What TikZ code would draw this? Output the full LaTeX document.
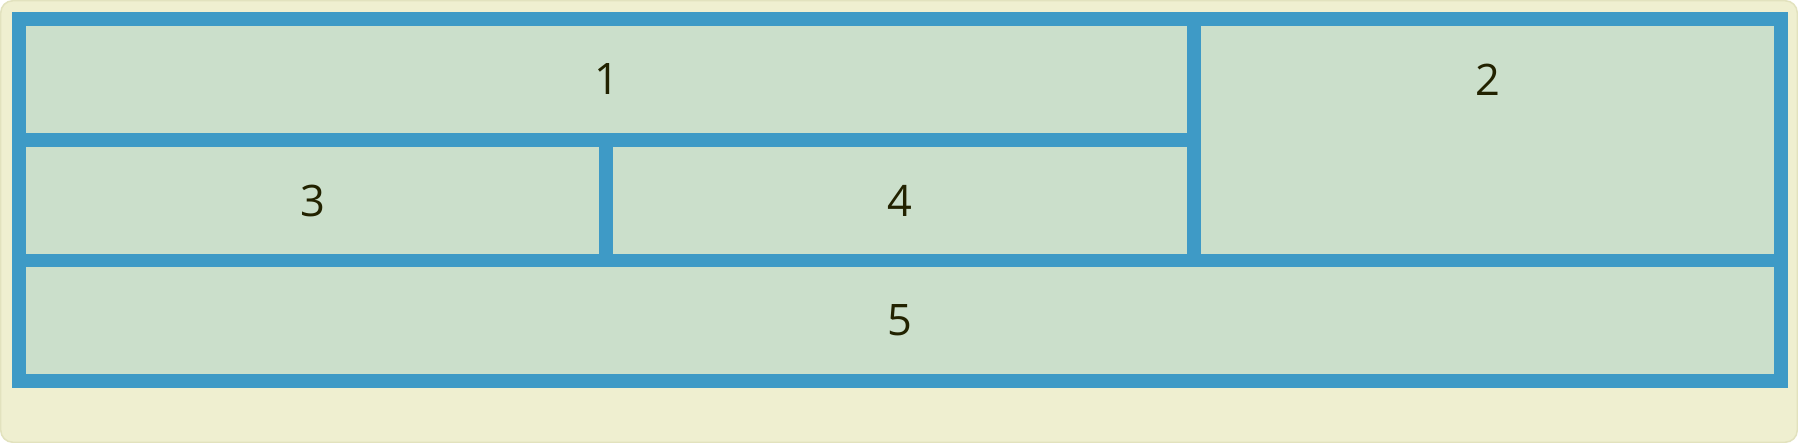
\documentclass[tikz,border=0pt]{standalone}
\usepackage{fontspec}
\setmainfont{Open Sans}
\definecolor{pagebg}{RGB}{239,239,208}
\definecolor{pageline}{RGB}{226,226,190}
\definecolor{gridblue}{RGB}{62,154,198}
\definecolor{cellfill}{RGB}{203,223,203}
\definecolor{digit}{RGB}{34,34,0}
\begin{document}
\begin{tikzpicture}[x=1bp,y=-1bp,
  cell/.style={fill=cellfill,draw=none,inner sep=0pt,outer sep=0pt,anchor=north west,
    text=digit,font=\fontsize{43.4bp}{52bp}\selectfont},
  digittext/.style={inner sep=0pt,outer sep=0pt,text=digit,font=\fontsize{43.4bp}{52bp}\selectfont}]
\useasboundingbox (0,0) rectangle (1798,443);
\fill[white] (0,0) rectangle (1798,443);
\filldraw[fill=pagebg,draw=pageline,line width=1.5bp,rounded corners=12bp] (0.75,0.75) rectangle (1797.25,442.25);
\fill[gridblue] (12,12) rectangle (1788,388);
\node[cell,minimum width=1161bp,minimum height=107bp] (c1) at (26,26) {1};
\node[cell,minimum width=573bp,minimum height=228bp] (c2) at (1201,26) {};
\node[digittext] (t2) at (1487.5,79.5) {2};
\node[cell,minimum width=573bp,minimum height=107bp] (c3) at (26,147) {3};
\node[cell,minimum width=574bp,minimum height=107bp] (c4) at (613,147) {4};
\node[cell,minimum width=1748bp,minimum height=107bp] (c5) at (26,267) {5};
\end{tikzpicture}
\end{document}
